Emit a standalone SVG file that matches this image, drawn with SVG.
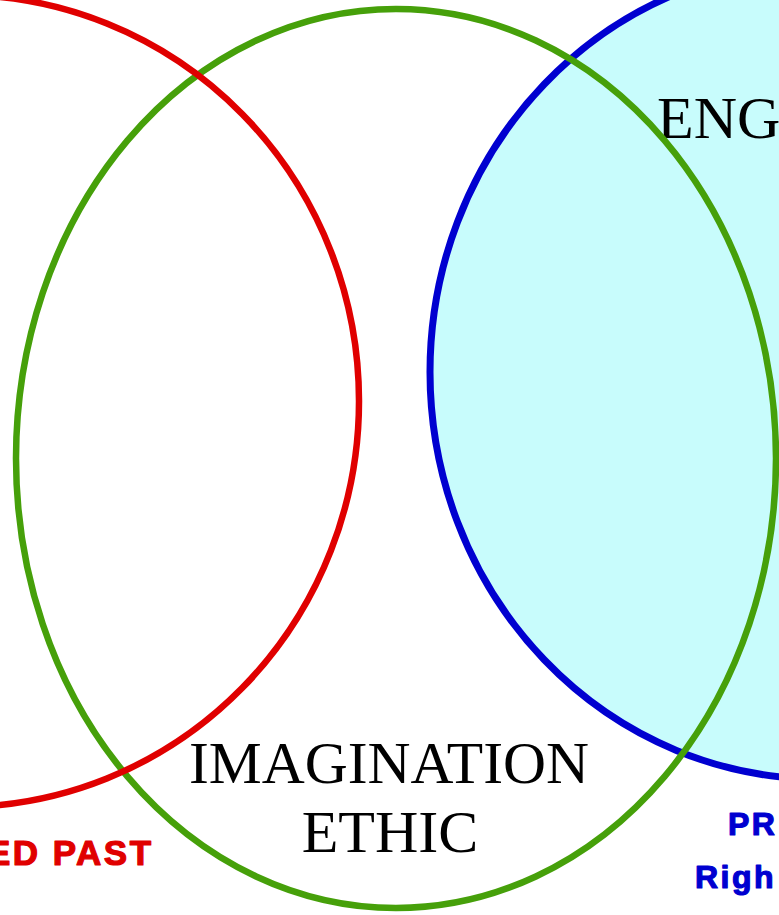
<svg xmlns="http://www.w3.org/2000/svg" width="779" height="915" viewBox="0 0 779 915">
<style>
.ring{fill:none;stroke-width:6.5}
.serif{font-family:"Liberation Serif","Times New Roman",serif;font-size:60px;fill:#000}
.lbl{font-family:"Liberation Sans",Arial,sans-serif;font-weight:bold;letter-spacing:2.5px;stroke-width:1.2px;stroke-linejoin:round}
</style>
<rect width="779" height="915" fill="#fff"/>
<g id="blue-set">
<ellipse cx="820" cy="372" rx="390" ry="407" fill="#c8fcfc" stroke="#0000d0" stroke-width="7"/>
<text class="serif" x="657" y="138">ENG</text>
<text class="lbl" x="728" y="835" font-size="32" fill="#0000d0" stroke="#0000d0">PR</text>
<text class="lbl" x="695" y="888" font-size="32" fill="#0000d0" stroke="#0000d0">Righ</text>
</g>
<g id="green-set">
<ellipse class="ring" cx="396" cy="458.5" rx="380" ry="449.5" stroke="#46a00a"/>
<text class="serif" x="389" y="783" text-anchor="middle" textLength="400" lengthAdjust="spacingAndGlyphs">IMAGINATION</text>
<text class="serif" x="390" y="852" text-anchor="middle">ETHIC</text>
</g>
<g id="red-set">
<ellipse class="ring" cx="-40" cy="401" rx="399" ry="406" stroke="#e00000" stroke-width="7"/>
<text class="lbl" x="-13" y="865" font-size="35" fill="#e00000" stroke="#e00000">ED PAST</text>
</g>
<g id="connectors"/>
</svg>
